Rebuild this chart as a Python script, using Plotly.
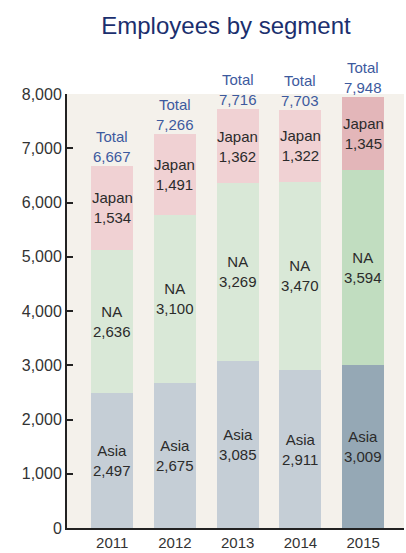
import plotly.graph_objects as go

years = ["2011", "2012", "2013", "2014", "2015"]
asia = [2497, 2675, 3085, 2911, 3009]
na = [2636, 3100, 3269, 3470, 3594]
japan = [1534, 1491, 1362, 1322, 1345]
totals = [6667, 7266, 7716, 7703, 7948]

asia_colors = ["#c5ced6"] * 4 + ["#95a8b5"]
na_colors = ["#d9e8d7"] * 4 + ["#c1ddc0"]
japan_colors = ["#f0d1d3"] * 4 + ["#e3b6b9"]

FONT = "Liberation Sans, Arial, Helvetica, sans-serif"
TXT = dict(family=FONT, size=15, color="#2b2b2b")

fig = go.Figure()
segments = [("Asia", asia, asia_colors), ("NA", na, na_colors), ("Japan", japan, japan_colors)]
for name, vals, cols in segments:
    fig.add_trace(go.Bar(
        x=years, y=vals, name=name,
        marker=dict(color=cols, line=dict(width=0)),
        width=0.67, hoverinfo="skip",
    ))

# segment labels centred in each stacked piece
base = [0] * len(years)
for name, vals, cols in segments:
    for i, v in enumerate(vals):
        fig.add_annotation(x=i, y=base[i] + v / 2, xref="x", yref="y",
                           text=f"{name}<br>{v:,}", showarrow=False,
                           yanchor="middle", font=TXT)
        base[i] += v

for i, t in enumerate(totals):
    fig.add_annotation(x=i, y=t, xref="x", yref="y", text=f"Total<br>{t:,}", showarrow=False,
                       yanchor="bottom", yshift=-1,
                       font=dict(family=FONT, size=15, color="#3d5a9e"))

fig.update_layout(
    barmode="stack",
    width=406, height=553,
    margin=dict(l=67, r=2, t=94, b=22),
    paper_bgcolor="white",
    plot_bgcolor="#f4f1eb",
    showlegend=False,
    title=dict(text="Employees by segment", x=226/406, xanchor="center", xref="container",
               y=1 - 26/553, yanchor="middle", yref="container",
               font=dict(family=FONT, size=24, color="#1b2f6e")),
    font=dict(family=FONT, color="#333"),
)
fig.update_xaxes(type="category", range=[-0.72, 4.65], showline=True, linecolor="#222", linewidth=2,
                 ticks="", tickfont=dict(family=FONT, size=15, color="#333"), showgrid=False)
fig.update_yaxes(range=[0, 8000], dtick=1000, tickformat=",", showline=True, linecolor="#222",
                 linewidth=2, ticks="inside", ticklen=6, tickwidth=2, tickcolor="#222",
                 showgrid=False, zeroline=False,
                 tickfont=dict(family=FONT, size=16, color="#333"))

fig.write_html("out.html")
